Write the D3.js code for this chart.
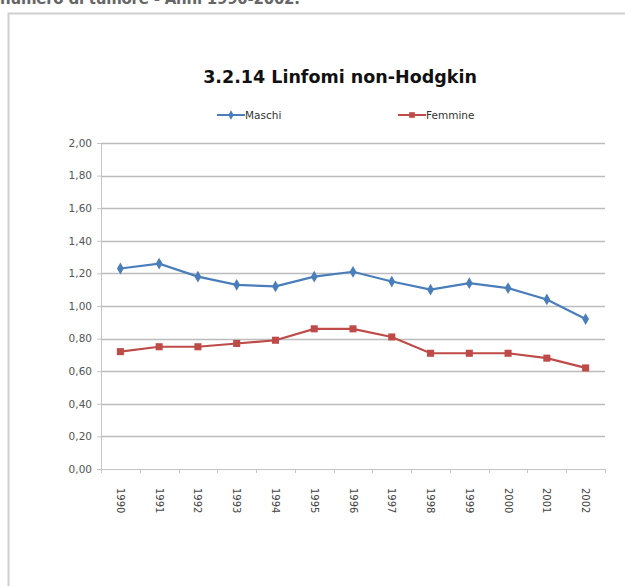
<!DOCTYPE html>
<html>
<head>
<meta charset="utf-8">
<script src="https://cdn.jsdelivr.net/npm/d3@7"></script>
<style>
  body { margin: 0; background: #fff; }
  svg { display: block; }
</style>
</head>
<body>
<div id="chart"></div>
<script>
// data
var years = ["1990","1991","1992","1993","1994","1995","1996","1997","1998","1999","2000","2001","2002"];
var maschi  = [1.23, 1.26, 1.18, 1.13, 1.12, 1.18, 1.21, 1.15, 1.10, 1.14, 1.11, 1.04, 0.92];
var femmine = [0.72, 0.75, 0.75, 0.77, 0.79, 0.86, 0.86, 0.81, 0.71, 0.71, 0.71, 0.68, 0.62];
var yTicks = [0, 0.2, 0.4, 0.6, 0.8, 1.0, 1.2, 1.4, 1.6, 1.8, 2.0];

var blue = "#4a7ebb", red = "#be4b48";

var W = 625, H = 586;
var svg = d3.select("#chart").append("svg")
    .attr("width", W)
    .attr("height", H);

// clipped heading from the page above
svg.append("text")
    .attr("x", 0)
    .attr("y", 4)
    .attr("textLength", 300)
    .style("font-family", "DejaVu Sans")
    .style("font-weight", "bold")
    .style("font-size", "15px")
    .style("fill", "#666")
    .text("numero di tumore - Anni 1990-2002.");

// outer frame
svg.append("path")
    .attr("d", "M8.5," + (H + 2) + "V13.5H" + (W + 2))
    .style("fill", "none")
    .style("stroke", "#cfcfcf")
    .style("stroke-width", 2);

var margin = {top: 143, left: 101},
    width = 504, height = 326;

var g = svg.append("g")
    .attr("transform", "translate(" + margin.left + "," + margin.top + ")");

var x = d3.scaleBand().domain(years).range([0, width]);
var y = d3.scaleLinear().domain([0, 2]).range([height, 0]);
var fmt = function(d) { return d3.format(".2f")(d).replace(".", ","); };

// gridlines
g.selectAll(".grid").data(yTicks.slice(1)).enter().append("line")
    .attr("x1", 0).attr("x2", width)
    .attr("y1", function(d) { return Math.round(y(d)) + 0.5; })
    .attr("y2", function(d) { return Math.round(y(d)) + 0.5; })
    .style("stroke", "#bcbcbc")
    .style("stroke-width", 1.3);

// y axis
var yAxis = d3.axisLeft(y).tickValues(yTicks).tickFormat(fmt).tickSize(4).tickPadding(5);
var ya = g.append("g").call(yAxis);
ya.select(".domain").style("stroke", "#c4c4c4");
ya.selectAll(".tick line").style("stroke", "#c4c4c4");
ya.selectAll("text")
    .style("font-family", "Verdana, DejaVu Sans")
    .style("font-size", "10.5px")
    .style("fill", "#555");

// x axis
var xa = g.append("g")
    .attr("transform", "translate(0," + height + ")")
    .call(d3.axisBottom(x).tickSize(0).tickPadding(0));
xa.select(".domain").style("stroke", "#c4c4c4");
xa.selectAll(".tick text")
    .attr("transform", "rotate(90)")
    .attr("x", 19)
    .attr("y", 0)
    .attr("dy", "0.35em")
    .style("text-anchor", "start")
    .style("font-family", "Verdana, DejaVu Sans")
    .style("font-size", "10px")
    .style("fill", "#444");
g.append("g").selectAll("line").data(d3.range(years.length + 1)).enter().append("line")
    .attr("x1", function(i) { return Math.round(i * x.step()) + 0.5; })
    .attr("x2", function(i) { return Math.round(i * x.step()) + 0.5; })
    .attr("y1", height).attr("y2", height + 4)
    .style("stroke", "#c4c4c4");

var cx = function(d, i) { return x(years[i]) + x.bandwidth() / 2; };
var line = d3.line().x(cx).y(function(d) { return y(d); });

// series
g.append("path").datum(maschi)
    .attr("d", line)
    .style("fill", "none").style("stroke", blue).style("stroke-width", 2.2);
g.append("path").datum(femmine)
    .attr("d", line)
    .style("fill", "none").style("stroke", red).style("stroke-width", 2.2);

var diamond = d3.symbol().type(d3.symbolDiamond).size(40);
var square = d3.symbol().type(d3.symbolSquare).size(50);

g.selectAll(".pm").data(maschi).enter().append("path")
    .attr("d", diamond)
    .attr("transform", function(d, i) { return "translate(" + cx(d, i) + "," + y(d) + ")"; })
    .style("fill", blue);
g.selectAll(".pf").data(femmine).enter().append("path")
    .attr("d", square)
    .attr("transform", function(d, i) { return "translate(" + cx(d, i) + "," + y(d) + ")"; })
    .style("fill", red);

// title
svg.append("text")
    .attr("x", 340)
    .attr("y", 83)
    .attr("text-anchor", "middle")
    .style("font-family", "Verdana, DejaVu Sans")
    .style("font-weight", "bold")
    .style("font-size", "17.5px")
    .style("fill", "#111")
    .text("3.2.14 Linfomi non-Hodgkin");

// legend
var legend = [
    {name: "Maschi", color: blue, sym: diamond, x: 217},
    {name: "Femmine", color: red, sym: square, x: 398}
];
var lg = svg.selectAll(".legend").data(legend).enter().append("g")
    .attr("transform", function(d) { return "translate(" + d.x + ",115)"; });
lg.append("line")
    .attr("x1", 0).attr("x2", 28)
    .style("stroke", function(d) { return d.color; })
    .style("stroke-width", 2);
lg.append("path")
    .attr("d", function(d) { return d.sym(); })
    .attr("transform", "translate(14,0) scale(0.8)")
    .style("fill", function(d) { return d.color; });
lg.append("text")
    .attr("x", 28)
    .attr("dy", "0.35em")
    .style("font-family", "Verdana, DejaVu Sans")
    .style("font-size", "10.5px")
    .style("fill", "#333")
    .text(function(d) { return d.name; });
</script>
</body>
</html>
